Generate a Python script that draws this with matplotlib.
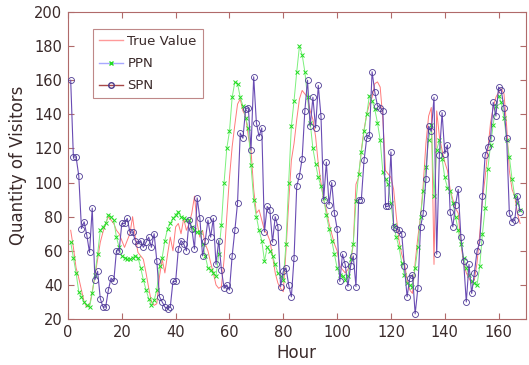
import matplotlib
matplotlib.use("Agg")
import matplotlib.pyplot as plt
from matplotlib.lines import Line2D
import numpy as np

hours = list(range(1, 169))

true_value = [72, 62, 50, 44, 37, 30, 27, 28, 36, 45, 55, 65, 71, 76, 80, 78, 76, 72, 70, 66,
              62, 66, 70, 80, 68, 59, 57, 55, 47, 38, 30, 28, 29, 45, 55, 47, 58, 68, 60, 74,
              76, 70, 79, 72, 76, 82, 92, 76, 68, 72, 64, 60, 53, 47, 40, 38, 39, 55, 80, 103,
              121, 134, 146, 149, 142, 139, 127, 119, 96, 82, 84, 78, 72, 70, 66, 57, 47, 41, 38, 36,
              60, 88, 113, 123, 137, 149, 154, 152, 150, 142, 137, 127, 111, 100, 90, 84, 76, 70, 64, 60,
              51, 49, 47, 49, 53, 64, 99, 103, 119, 131, 140, 146, 150, 158, 159, 156, 137, 107, 105, 103,
              96, 80, 66, 58, 53, 43, 37, 35, 53, 68, 80, 99, 123, 139, 144, 52, 142, 127, 119, 112,
              107, 96, 90, 85, 82, 64, 53, 47, 44, 41, 43, 53, 70, 90, 103, 119, 135, 144, 150, 153,
              155, 152, 133, 107, 96, 92, 82, 76]

ppn = [65, 56, 47, 36, 33, 30, 28, 27, 35, 46, 58, 72, 74, 76, 81, 80, 78, 68, 62, 57,
       56, 55, 55, 56, 57, 56, 50, 43, 37, 32, 28, 31, 37, 51, 56, 66, 73, 76, 79, 81,
       83, 80, 79, 78, 78, 74, 72, 71, 71, 64, 57, 50, 49, 47, 45, 58, 75, 100, 120, 130,
       150, 159, 158, 150, 145, 138, 132, 110, 90, 80, 72, 66, 54, 62, 60, 57, 52, 47, 45, 43,
       64, 100, 133, 148, 165, 180, 175, 165, 150, 135, 120, 111, 103, 98, 91, 81, 73, 66, 58, 50,
       46, 45, 43, 45, 55, 64, 89, 105, 118, 130, 140, 151, 148, 143, 135, 125, 106, 102, 99, 88,
       75, 68, 62, 53, 46, 41, 40, 39, 50, 62, 80, 95, 109, 125, 134, 92, 119, 125, 114, 103,
       97, 95, 88, 80, 72, 64, 56, 50, 46, 42, 41, 40, 51, 70, 85, 108, 122, 134, 145, 151,
       147, 138, 125, 115, 102, 92, 88, 84]

spn = [160, 115, 115, 104, 73, 77, 69, 59, 85, 43, 48, 32, 27, 27, 37, 44, 42, 60, 60, 76,
       76, 79, 71, 71, 66, 64, 66, 62, 65, 68, 62, 70, 54, 33, 30, 27, 26, 27, 42, 42,
       61, 66, 64, 60, 78, 73, 61, 91, 79, 57, 66, 78, 68, 79, 52, 66, 49, 38, 40, 37,
       57, 72, 88, 129, 126, 143, 144, 119, 162, 135, 127, 132, 71, 86, 84, 65, 80, 74, 39, 48,
       50, 40, 33, 56, 98, 104, 114, 142, 160, 133, 150, 132, 157, 139, 90, 112, 87, 100, 82, 73,
       42, 58, 52, 39, 51, 57, 39, 90, 90, 113, 126, 128, 165, 153, 145, 144, 142, 86, 86, 118,
       74, 73, 72, 70, 51, 33, 44, 46, 23, 38, 74, 82, 102, 133, 130, 150, 58, 116, 141, 117,
       122, 83, 74, 87, 96, 68, 54, 30, 52, 35, 47, 60, 65, 92, 116, 121, 126, 147, 139, 156,
       154, 144, 126, 82, 77, 78, 92, 83]

xticks = [0, 20, 40, 60, 80, 100, 120, 140, 160]
yticks = [20, 40, 60, 80, 100, 120, 140, 160, 180, 200]

spine_c = '#b06a6a'
text_c = '#3a2a2a'

fig = plt.figure(figsize=(5.29, 3.65), dpi=100)
ax = fig.add_axes([68 / 529, 1 - 319 / 365, (525.5 - 68) / 529, (319 - 12) / 365])

ax.plot(hours, true_value, color='#ff7a7a', lw=0.7, zorder=2)
ax.plot(hours, ppn, color='#7cf07c', lw=0.7, marker='x', ms=3.5, mew=0.7,
        mec='#22dd22', zorder=3)
ax.plot(hours, spn, color='#6a4cb4', lw=0.8, marker='o', ms=4.3, mew=0.6,
        mfc='none', mec='#4e3c94', zorder=4)

ax.set_xlim(0, 170)
ax.set_ylim(20, 200)
ax.set_xticks(xticks)
ax.set_yticks(yticks)
ax.tick_params(direction='in', length=4, width=0.8, colors=spine_c,
               labelcolor=text_c, labelsize=10.5, top=True, right=True, pad=4)
for s in ax.spines.values():
    s.set_color(spine_c)
    s.set_linewidth(0.8)

ax.set_xlabel('Hour', fontsize=12, color=text_c, labelpad=3)
ax.set_ylabel('Quantity of Visitors', fontsize=12, color=text_c, labelpad=5)

handles = [
    Line2D([], [], color='#ff9a9a', lw=1),
    Line2D([], [], color='#a8a8ff', lw=1, marker='x', ms=3.5, mec='#22dd22'),
    Line2D([], [], color='#a84848', lw=1, marker='o', ms=4, mfc='none', mec='#4a3a8a'),
]
leg = ax.legend(handles, ['True Value', 'PPN', 'SPN'], loc='upper left',
                bbox_to_anchor=((93 - 68) / 457.5, 1 - (29 - 12) / 307),
                fontsize=9.5, frameon=True, fancybox=False, borderaxespad=0,
                handlelength=1.8, labelspacing=0.7, borderpad=0.45,
                handletextpad=0.35)
leg.get_frame().set_edgecolor(spine_c)
leg.get_frame().set_linewidth(0.8)
for t in leg.get_texts():
    t.set_color(text_c)

fig.savefig('out.png', dpi=100)
